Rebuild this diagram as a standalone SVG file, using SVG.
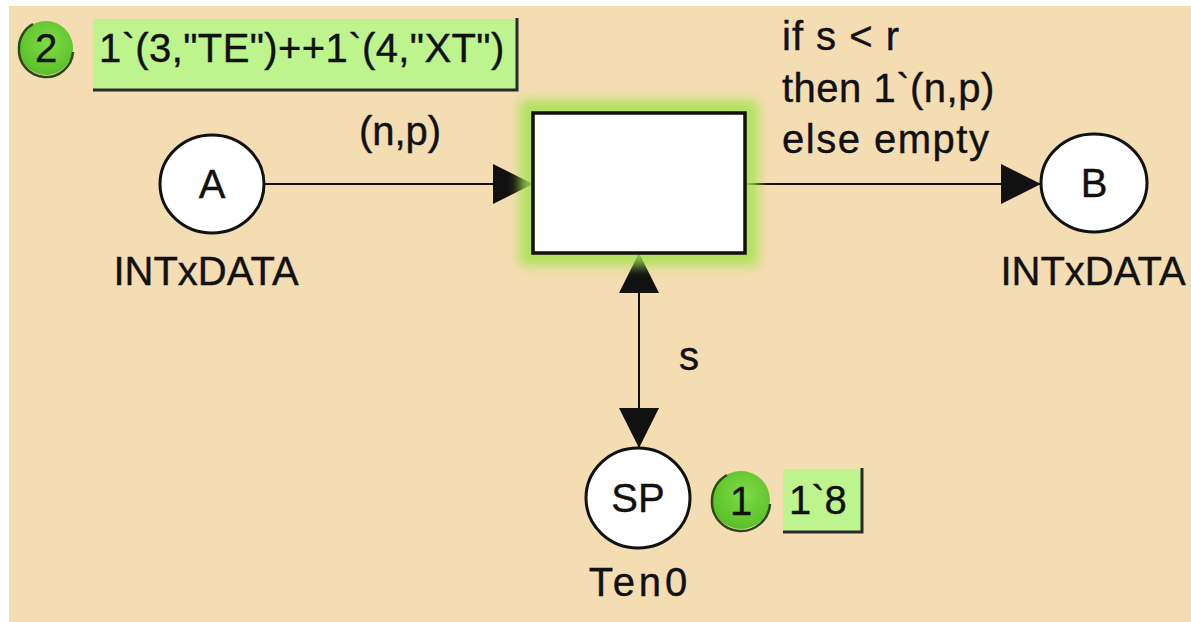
<svg xmlns="http://www.w3.org/2000/svg" width="1191" height="622" viewBox="0 0 1191 622">
<style>
.t{font-family:"Liberation Sans",Arial,sans-serif;font-size:40px;fill:#111;stroke:#111;stroke-width:0.4}
.place{fill:#fff;stroke:#111;stroke-width:3}
.arc{stroke:#111;stroke-width:2;fill:none}
.box{fill:#bdf48e}
.shadow{fill:none;stroke:#2a2a2a;stroke-width:3}
.tok{fill:url(#tokg)}
.tokedge{fill:none;stroke:#2c4a18;stroke-width:2.5}
</style>
<defs>
<radialGradient id="tokg" cx="0.55" cy="0.4" r="0.65">
<stop offset="0" stop-color="#7fdc46"/>
<stop offset="1" stop-color="#56bd26"/>
</radialGradient>
<filter id="blur" x="-30%" y="-30%" width="160%" height="160%">
<feGaussianBlur stdDeviation="6"/>
</filter>
<marker id="ah" viewBox="0 0 40 40" refX="40" refY="20" markerWidth="40" markerHeight="40" markerUnits="userSpaceOnUse" orient="auto-start-reverse">
<path d="M0,0 L40,20 L0,40 Z" fill="#111"/>
</marker>
</defs>
<rect x="0" y="0" width="1191" height="622" fill="#fff"/>
<rect x="9" y="6" width="1182" height="616" fill="#F5DDB3"/>
<g id="connectors">
<line class="arc" x1="264" y1="184" x2="533" y2="184" marker-end="url(#ah)"/>
<line class="arc" x1="745" y1="184" x2="1041" y2="184" marker-end="url(#ah)"/>
<line class="arc" x1="639" y1="253" x2="639" y2="448" marker-start="url(#ah)" marker-end="url(#ah)"/>
<text class="t" x="400" y="145" text-anchor="middle">(n,p)</text>
<text class="t" x="782" y="50" letter-spacing="1">if s &lt; r</text>
<text class="t" x="782" y="102" letter-spacing="0.5">then 1`(n,p)</text>
<text class="t" x="782" y="153" letter-spacing="1.5">else empty</text>
<text class="t" x="689" y="370" text-anchor="middle">s</text>
</g>
<g id="T">
<rect x="520" y="100" width="238" height="166" fill="#a2e34e" opacity="0.85" filter="url(#blur)"/>
<rect x="533" y="113" width="212" height="140" fill="#fff" stroke="#111" stroke-width="3.5"/>
</g>
<g id="A">
<ellipse class="place" cx="212" cy="184" rx="52" ry="49"/>
<text class="t" x="212" y="198" text-anchor="middle">A</text>
<text class="t" x="206" y="285" text-anchor="middle">INTxDATA</text>
</g>
<g id="B">
<ellipse class="place" cx="1094" cy="183" rx="53" ry="49"/>
<text class="t" x="1094" y="197" text-anchor="middle">B</text>
<text class="t" x="1093" y="285" text-anchor="middle">INTxDATA</text>
</g>
<g id="SP">
<ellipse class="place" cx="638" cy="498" rx="52" ry="50"/>
<text class="t" x="638" y="512" text-anchor="middle">SP</text>
<text class="t" x="640" y="596" text-anchor="middle" letter-spacing="4">Ten0</text>
</g>
<g id="markingA">
<circle class="tok" cx="46" cy="48" r="27"/>
<path class="tokedge" d="M73,52 A27,27 0 0 1 19,48 A27,27 0 0 1 33,24"/>
<text class="t" x="46" y="62" text-anchor="middle">2</text>
<rect class="box" x="93" y="19" width="424" height="71"/>
<path class="shadow" d="M517,18 L517,90 L93,90"/>
<text class="t" x="99" y="62" font-size="38" letter-spacing="0.4">1`(3,"TE")++1`(4,"XT")</text>
</g>
<g id="markingSP">
<circle class="tok" cx="741" cy="500" r="29"/>
<path class="tokedge" d="M770,504 A29,29 0 0 1 712,500 A29,29 0 0 1 727,475"/>
<text class="t" x="741" y="515" text-anchor="middle">1</text>
<rect class="box" x="783" y="469" width="79" height="63"/>
<path class="shadow" d="M862,468 L862,532 L783,532"/>
<text class="t" x="789" y="514">1`8</text>
</g>
</svg>
